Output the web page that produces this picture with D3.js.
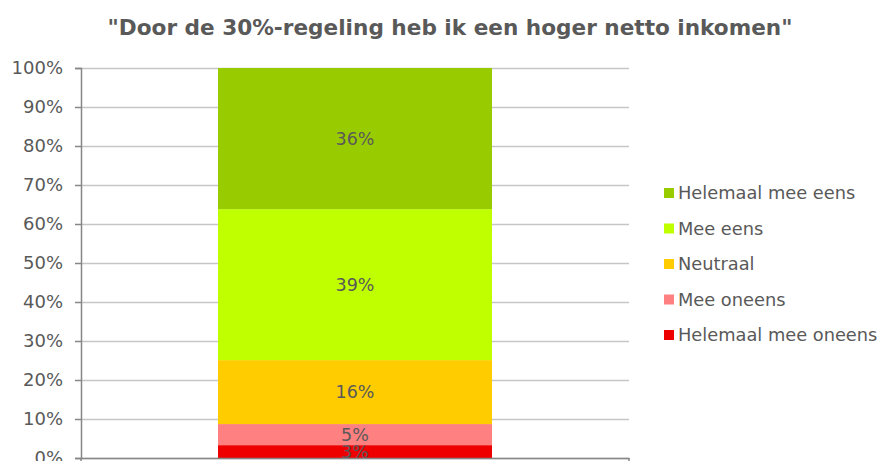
<!DOCTYPE html>
<html>
<head>
<meta charset="utf-8">
<script src="https://cdn.jsdelivr.net/npm/d3@7"></script>
<style>
  html, body { margin: 0; padding: 0; background: #fff; overflow: hidden; }
  svg { display: block; font-family: Verdana, "DejaVu Sans", sans-serif; }
</style>
</head>
<body>
<div id="chart"></div>
<script>
// Stacked 100% column - answers to one statement

const title = "\"Door de 30%-regeling heb ik een hoger netto inkomen\"";
const categories = ["Antwoorden"];
// bottom to top
const seriesNames = ["Helemaal mee oneens", "Mee oneens", "Neutraal", "Mee eens", "Helemaal mee eens"];
const seriesValues = [3.3, 5.4, 16.4, 38.7, 36.2];
const seriesLabels = ["3%", "5%", "16%", "39%", "36%"];
const seriesColors = ["#ee0000", "#ff8080", "#ffcc00", "#bfff00", "#99cc00"];
const yTicks = [0, 10, 20, 30, 40, 50, 60, 70, 80, 90, 100];

const CONFIG = {
    width: 880,
    height: 461,
    margin: { top: 68, right: 251, bottom: 3, left: 81 },
    get chartWidth() { return this.width - this.margin.left - this.margin.right; },
    get chartHeight() { return this.height - this.margin.top - this.margin.bottom; }
};
const textColor = "#595959";

const { margin, width, height, chartWidth, chartHeight } = CONFIG;

const svg = d3.select("#chart").append("svg")
    .attr("width", width)
    .attr("height", height);

svg.append("text")
    .attr("x", 450)
    .attr("y", 35)
    .attr("text-anchor", "middle")
    .attr("fill", textColor)
    .style("font-size", "21.6px")
    .style("font-weight", "bold")
    .text(title);

const g = svg.append("g")
    .attr("transform", `translate(${margin.left},${margin.top})`);

const x = d3.scaleBand()
    .domain(categories)
    .range([0, chartWidth])
    .paddingInner(0)
    .paddingOuter(0.5);

const y = d3.scaleLinear()
    .domain([0, 100])
    .range([chartHeight, 0]);

// grid lines
g.append("g")
    .call(d3.axisLeft(y).tickValues(yTicks).tickSize(-chartWidth).tickFormat(""))
    .call(s => s.select(".domain").remove())
    .selectAll("line")
    .attr("stroke", "#c6c6c6")
    .attr("stroke-width", 1.5);

// stacked segments
const stackData = [{}];
seriesNames.forEach((n, i) => { stackData[0][n] = seriesValues[i]; });
const stacked = d3.stack().keys(seriesNames)(stackData);

const seg = g.selectAll(".seg")
    .data(stacked)
    .enter().append("g")
    .attr("class", "seg");

seg.append("rect")
    .attr("x", x(categories[0]))
    .attr("width", x.bandwidth())
    .attr("y", d => y(d[0][1]))
    .attr("height", d => y(d[0][0]) - y(d[0][1]))
    .attr("fill", (d, i) => seriesColors[i]);

seg.append("text")
    .attr("x", x(categories[0]) + x.bandwidth() / 2)
    .attr("y", d => (y(d[0][0]) + y(d[0][1])) / 2)
    .attr("dy", "0.36em")
    .attr("text-anchor", "middle")
    .attr("fill", textColor)
    .style("font-size", "17.5px")
    .text((d, i) => seriesLabels[i]);

// y axis
const yAxis = g.append("g")
    .call(d3.axisLeft(y).tickValues(yTicks).tickSizeOuter(0).tickSize(6).tickPadding(12)
        .tickFormat(d => d + "%"));
yAxis.select(".domain").attr("stroke", "#868686").attr("stroke-width", 1.5);
yAxis.selectAll("line").attr("stroke", "#868686").attr("stroke-width", 1.5);
yAxis.selectAll("text")
    .attr("fill", textColor)
    .style("font-size", "18px")
    .style("font-family", "Verdana, 'DejaVu Sans', sans-serif");

// x axis (category boundaries)
const xAxis = g.append("g")
    .attr("transform", `translate(0,${chartHeight})`)
    .call(d3.axisBottom(x).tickSize(0).tickFormat(""));
xAxis.select(".domain").attr("stroke", "#868686").attr("stroke-width", 1.5);
xAxis.selectAll(".edge")
    .data([0, chartWidth])
    .enter().append("line")
    .attr("x1", d => d).attr("x2", d => d)
    .attr("y1", 0).attr("y2", 6)
    .attr("stroke", "#868686").attr("stroke-width", 1.5);

// legend (top to bottom: reverse of stack order)
const legend = svg.append("g")
    .attr("transform", "translate(664,193)");

const legendItems = legend.selectAll(".item")
    .data(seriesNames.map((n, i) => ({ name: n, color: seriesColors[i] })).reverse())
    .enter().append("g")
    .attr("class", "item")
    .attr("transform", (d, i) => `translate(0,${i * 35.5})`);

legendItems.append("rect")
    .attr("x", 0).attr("y", -5)
    .attr("width", 10).attr("height", 10)
    .attr("fill", d => d.color);

legendItems.append("text")
    .attr("x", 14)
    .attr("y", 0)
    .attr("dy", "0.36em")
    .attr("fill", textColor)
    .style("font-size", "17.8px")
    .text(d => d.name);
</script>
</body>
</html>
